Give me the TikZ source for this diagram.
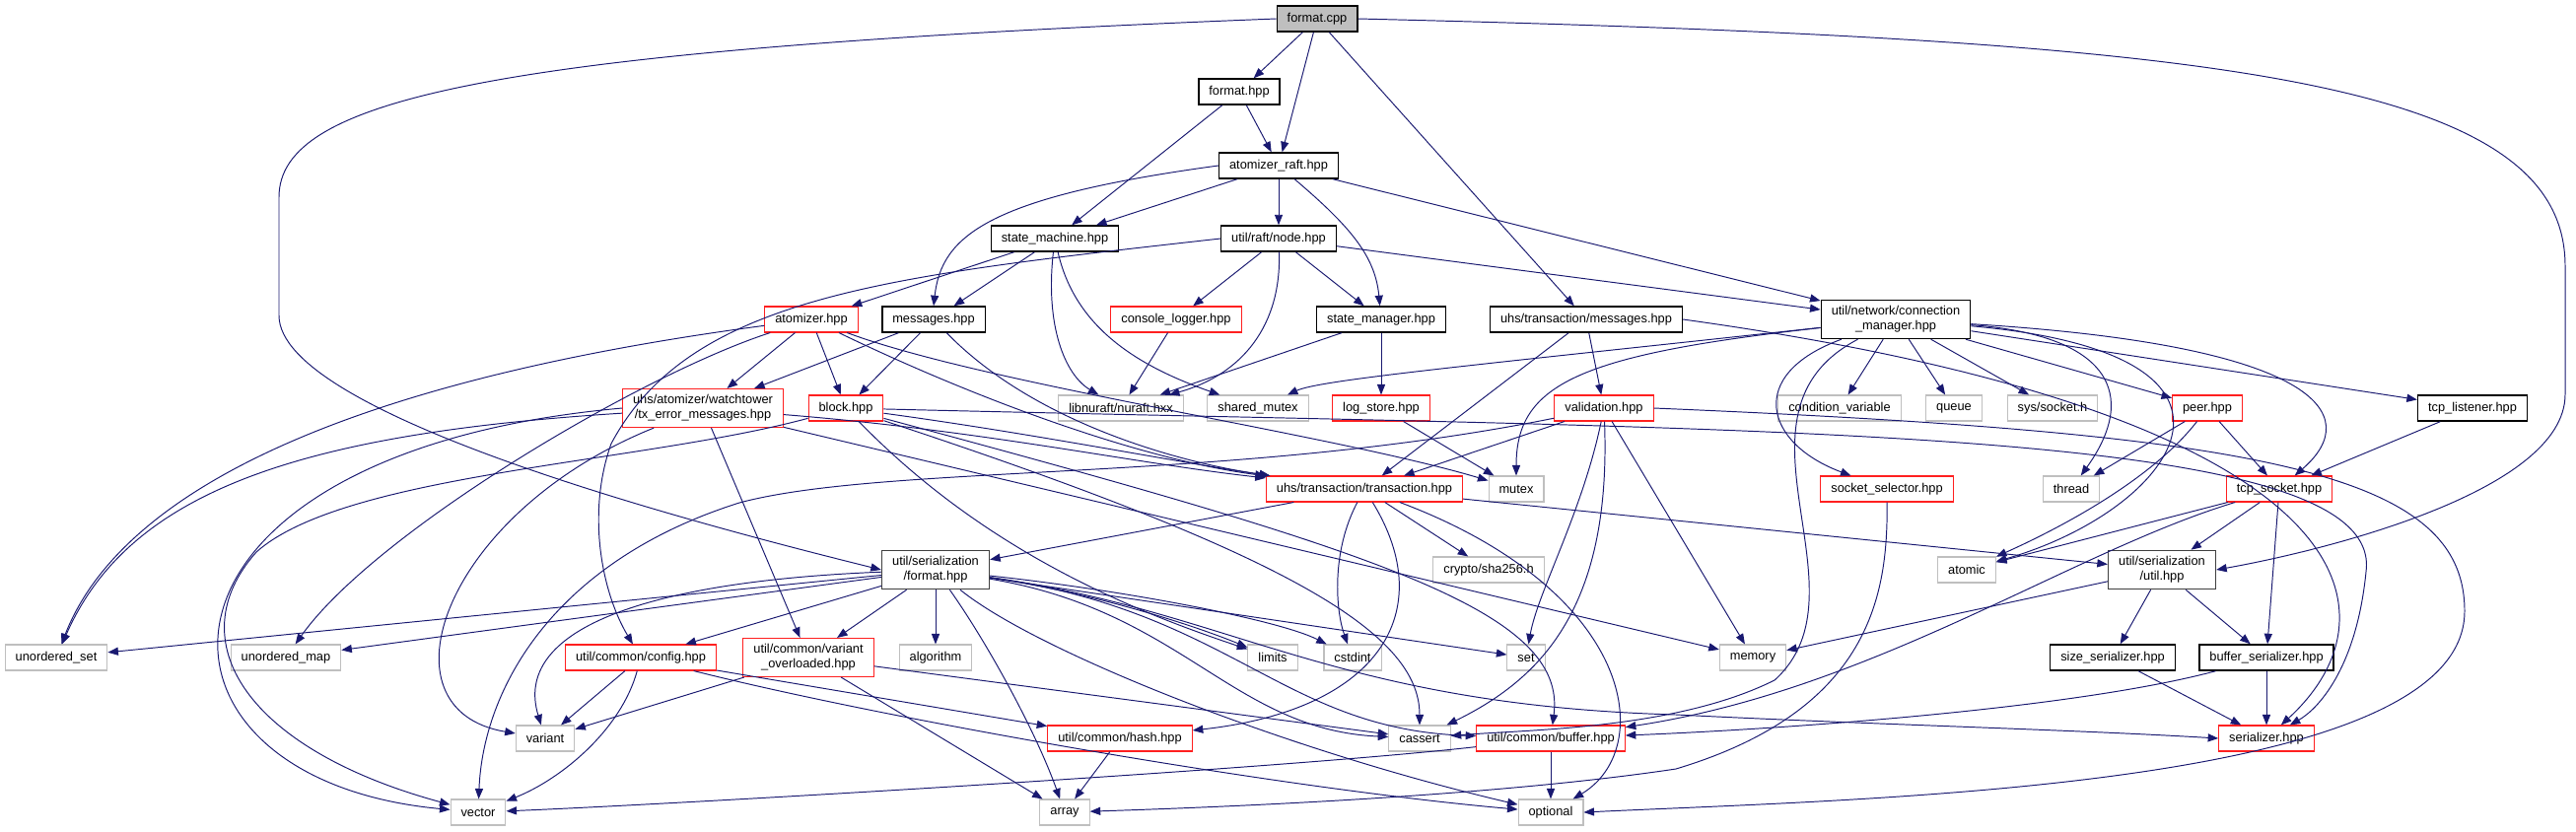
\documentclass[tikz,border=0pt]{standalone}
\usepackage{fontspec}
\setmainfont{Liberation Sans}
\usetikzlibrary{arrows.meta}

\definecolor{depline}{HTML}{191970}
\definecolor{sysline}{HTML}{BFBFBF}
\definecolor{moreline}{HTML}{FF2020}
\definecolor{serline}{HTML}{404040}

\tikzset{
  file/.style={draw, rectangle, fill=white, inner xsep=0.21cm, inner ysep=3.4pt,
    minimum height=0.52cm, align=center, line width=0.8pt},
  rootfile/.style={file, fill=sysline},
  morefile/.style={file, draw=moreline, line width=0.6pt},
  sysfile/.style={file, draw=sysline, line width=0.6pt},
  serfile/.style={file, draw=serline, line width=0.9pt},
  dep/.style={draw=depline, line width=0.55pt, -{Triangle[length=6pt,width=4.6pt]}}
}

\begin{document}
\begin{tikzpicture}[x=0.02cm, y=-0.02cm, font=\fontsize{7.3}{8.6}\selectfont]

  \useasboundingbox (0,0) rectangle (2613,843);

  % The files, row by row
  \node[rootfile] (fmtcpp) at (1336,19) {format.cpp};
  \node[file] (fmthpp) at (1257,93) {format.hpp};
  \node[file] (araft) at (1297,168) {atomizer\_raft.hpp};
  \node[file] (smach) at (1070,242) {state\_machine.hpp};
  \node[file] (rnode) at (1297,242) {util/raft/node.hpp};

  \node[morefile] (atom) at (823,324) {atomizer.hpp};
  \node[file] (amsgs) at (947,324) {messages.hpp};
  \node[morefile] (clog) at (1193,324) {console\_logger.hpp};
  \node[file] (smgr) at (1401,324) {state\_manager.hpp};
  \node[file] (tmsgs) at (1609,324) {uhs/transaction/messages.hpp};
  \node[file] (cmgr) at (1923,324) {util/network/connection\\\_manager.hpp};

  \node[morefile] (txerr) at (713,414) {uhs/atomizer/watchtower\\/tx\_error\_messages.hpp};
  \node[morefile] (blk) at (858,414) {block.hpp};
  \node[sysfile] (nuraft) at (1137,414) {libnuraft/nuraft.hxx};
  \node[sysfile] (shmtx) at (1276,414) {shared\_mutex};
  \node[morefile] (lstore) at (1401,414) {log\_store.hpp};
  \node[morefile] (valid) at (1627,414) {validation.hpp};
  \node[sysfile] (condv) at (1866,414) {condition\_variable};
  \node[sysfile] (queue) at (1982,414) {queue};
  \node[sysfile] (sockh) at (2082,414) {sys/socket.h};
  \node[morefile] (peer) at (2239,414) {peer.hpp};
  \node[file] (tcpl) at (2508,414) {tcp\_listener.hpp};

  \node[morefile] (trans) at (1384,496) {uhs/transaction/transaction.hpp};
  \node[sysfile] (mutex) at (1538,496) {mutex};
  \node[morefile] (ssel) at (1914,496) {socket\_selector.hpp};
  \node[sysfile] (thread) at (2101,496) {thread};
  \node[morefile] (tcps) at (2312,496) {tcp\_socket.hpp};

  \node[serfile] (sfmt) at (949,578) {util/serialization\\/format.hpp};
  \node[sysfile] (sha) at (1510,578) {crypto/sha256.h};
  \node[sysfile] (atomic) at (1995,578) {atomic};
  \node[serfile] (sutil) at (2193,578) {util/serialization\\/util.hpp};

  \node[sysfile] (uset) at (57,667) {unordered\_set};
  \node[sysfile] (umap) at (290,667) {unordered\_map};
  \node[morefile] (cfg) at (650,667) {util/common/config.hpp};
  \node[morefile] (varov) at (820,667) {util/common/variant\\\_overloaded.hpp};
  \node[sysfile] (algo) at (949,667) {algorithm};
  \node[sysfile] (limits) at (1291,667) {limits};
  \node[sysfile] (cstdint) at (1372,667) {cstdint};
  \node[sysfile] (stdset) at (1548,667) {set};
  \node[sysfile] (memory) at (1778,667) {memory};
  \node[file] (sizeser) at (2143,667) {size\_serializer.hpp};
  \node[file] (bufser) at (2299,667) {buffer\_serializer.hpp};

  \node[sysfile] (variant) at (553,749) {variant};
  \node[morefile] (hash) at (1136,749) {util/common/hash.hpp};
  \node[sysfile] (cassert) at (1440,749) {cassert};
  \node[morefile] (buffer) at (1573,749) {util/common/buffer.hpp};
  \node[morefile] (serial) at (2299,749) {serializer.hpp};

  \node[sysfile] (vector) at (485,824) {vector};
  \node[sysfile] (array) at (1080,824) {array};
  \node[sysfile] (optional) at (1573,824) {optional};

  % format.cpp
  \draw[dep] (fmtcpp) -- (fmthpp);
  \draw[dep] (fmtcpp) -- (araft);
  \draw[dep] (fmtcpp) -- (tmsgs);
  \draw[dep] (fmtcpp.west) .. controls (500,50) and (283,100) .. (283,200) -- (283,320)
    .. controls (283,420) and (700,530) .. (sfmt.west);
  \draw[dep] (fmtcpp.east) .. controls (2250,40) and (2602,80) .. (2602,270) -- (2602,400)
    .. controls (2602,500) and (2350,560) .. (sutil.east);

  % format.hpp and atomizer_raft.hpp
  \draw[dep] (fmthpp) -- (araft);
  \draw[dep] (fmthpp) -- (smach);
  \draw[dep] (araft.west) .. controls (1000,200) and (955,240) .. (amsgs.north);
  \draw[dep] (araft) -- (smach);
  \draw[dep] (araft) -- (rnode);
  \draw[dep] (araft) .. controls (1370,230) and (1395,260) .. (smgr);
  \draw[dep] (araft) -- (cmgr);

  % state_machine.hpp
  \draw[dep] (smach) -- (atom);
  \draw[dep] (smach) -- (amsgs);
  \draw[dep] (smach) .. controls (1060,330) and (1080,380) .. (nuraft);
  \draw[dep] (smach) .. controls (1090,330) and (1150,370) .. (shmtx);

  % util/raft/node.hpp
  \draw[dep] (rnode.west) .. controls (900,280) and (700,300) .. (620,450)
    .. controls (595,520) and (610,600) .. (cfg);
  \draw[dep] (rnode) -- (clog);
  \draw[dep] (rnode) -- (smgr);
  \draw[dep] (rnode) .. controls (1300,330) and (1260,380) .. (nuraft);
  \draw[dep] (rnode) -- (cmgr);

  % atomizer.hpp and messages.hpp
  \draw[dep] (atom) -- (txerr);
  \draw[dep] (atom) -- (blk);
  \draw[dep] (atom) .. controls (980,400) and (1150,465) .. (trans);
  \draw[dep] (atom) .. controls (1000,390) and (1350,440) .. (mutex);
  \draw[dep] (atom) .. controls (400,380) and (130,480) .. (uset);
  \draw[dep] (atom) .. controls (650,380) and (380,540) .. (umap);
  \draw[dep] (amsgs) -- (txerr);
  \draw[dep] (amsgs) -- (blk);
  \draw[dep] (amsgs) .. controls (1050,430) and (1200,470) .. (trans);

  % tx_error_messages.hpp
  \draw[dep] (txerr) .. controls (300,440) and (130,500) .. (uset);
  \draw[dep] (txerr.west) .. controls (120,460) and (120,790) .. (vector);
  \draw[dep] (txerr) .. controls (450,520) and (380,720) .. (variant);
  \draw[dep] (txerr) -- (varov);
  \draw[dep] (txerr) .. controls (1000,437) and (1150,470) .. (trans);
  \draw[dep] (txerr) -- (memory);

  % block.hpp
  \draw[dep] (blk) .. controls (1050,440) and (1200,470) .. (trans);
  \draw[dep] (blk) .. controls (1000,560) and (1150,620) .. (limits);
  \draw[dep] (blk) .. controls (1300,560) and (1440,640) .. (cassert);
  \draw[dep] (blk) .. controls (1400,560) and (1590,620) .. (buffer);
  \draw[dep] (blk) .. controls (650,470) and (350,480) .. (260,560)
    .. controls (180,650) and (250,760) .. (vector);
  \draw[dep] (blk) .. controls (1800,437) and (2420,430) .. (2400,580)
    .. controls (2390,680) and (2350,720) .. (serial);

  % console_logger.hpp, state_manager.hpp, log_store.hpp
  \draw[dep] (clog) -- (nuraft);
  \draw[dep] (smgr) -- (nuraft);
  \draw[dep] (smgr) -- (lstore);
  \draw[dep] (lstore) -- (mutex);

  % uhs/transaction/messages.hpp
  \draw[dep] (tmsgs) -- (trans);
  \draw[dep] (tmsgs) -- (valid);
  \draw[dep] (tmsgs.east) .. controls (2400,420) and (2440,620) .. (serial);

  % connection_manager.hpp
  \draw[dep] (cmgr) -- (condv);
  \draw[dep] (cmgr) -- (queue);
  \draw[dep] (cmgr) -- (sockh);
  \draw[dep] (cmgr) -- (peer);
  \draw[dep] (cmgr) -- (tcpl);
  \draw[dep] (cmgr) .. controls (1500,370) and (1340,385) .. (shmtx);
  \draw[dep] (cmgr) .. controls (1600,360) and (1538,390) .. (mutex);
  \draw[dep] (cmgr) .. controls (1770,380) and (1790,450) .. (ssel);
  \draw[dep] (cmgr) .. controls (1740,420) and (1900,600) .. (1800,690)
    .. controls (1700,740) and (1550,740) .. (cassert);
  \draw[dep] (cmgr) .. controls (2140,340) and (2170,400) .. (thread);
  \draw[dep] (cmgr) .. controls (2350,350) and (2400,420) .. (tcps);
  \draw[dep] (cmgr) .. controls (2330,360) and (2200,520) .. (atomic);

  % peer.hpp, tcp_listener.hpp
  \draw[dep] (peer) -- (thread);
  \draw[dep] (peer) .. controls (2180,490) and (2080,540) .. (atomic);
  \draw[dep] (peer) -- (tcps);
  \draw[dep] (tcpl) -- (tcps);

  % validation.hpp
  \draw[dep] (valid) -- (trans);
  \draw[dep] (valid) .. controls (1250,490) and (900,470) .. (750,510)
    .. controls (560,570) and (490,700) .. (vector);
  \draw[dep] (valid) .. controls (1605,520) and (1560,600) .. (stdset);
  \draw[dep] (valid) .. controls (1635,620) and (1560,690) .. (cassert);
  \draw[dep] (valid) -- (memory);
  \draw[dep] (valid.east) .. controls (2300,440) and (2500,480) .. (2500,620)
    .. controls (2500,800) and (1900,810) .. (optional.east);

  % transaction.hpp
  \draw[dep] (trans) -- (sfmt);
  \draw[dep] (trans) .. controls (1350,560) and (1355,620) .. (cstdint);
  \draw[dep] (trans) .. controls (1460,620) and (1400,720) .. (hash);
  \draw[dep] (trans) -- (sha);
  \draw[dep] (trans) .. controls (1660,600) and (1680,760) .. (optional);
  \draw[dep] (trans) -- (sutil);

  % util/serialization/format.hpp
  \draw[dep] (sfmt) -- (uset);
  \draw[dep] (sfmt) -- (umap);
  \draw[dep] (sfmt) -- (cfg);
  \draw[dep] (sfmt) -- (varov);
  \draw[dep] (sfmt) -- (algo);
  \draw[dep] (sfmt) .. controls (650,590) and (520,640) .. (variant);
  \draw[dep] (sfmt) .. controls (1000,650) and (1050,740) .. (array);
  \draw[dep] (sfmt) .. controls (1050,660) and (1300,760) .. (optional);
  \draw[dep] (sfmt) .. controls (1100,600) and (1200,630) .. (limits);
  \draw[dep] (sfmt) .. controls (1150,600) and (1300,630) .. (cstdint);
  \draw[dep] (sfmt) -- (stdset);
  \draw[dep] (sfmt) .. controls (1200,620) and (1250,740) .. (cassert);
  \draw[dep] (sfmt) .. controls (1250,620) and (1300,740) .. (buffer);
  \draw[dep] (sfmt) .. controls (1250,620) and (1350,715) .. (1700,725)
    .. controls (1900,735) and (2100,740) .. (serial.west);

  % util/common
  \draw[dep] (cfg) -- (variant);
  \draw[dep] (cfg) .. controls (630,740) and (570,790) .. (vector);
  \draw[dep] (cfg) -- (hash);
  \draw[dep] (cfg) .. controls (900,730) and (1300,800) .. (optional);
  \draw[dep] (varov) -- (variant);
  \draw[dep] (varov) -- (cassert);
  \draw[dep] (varov) -- (array);
  \draw[dep] (hash) -- (array);
  \draw[dep] (buffer) -- (optional);
  \draw[dep] (buffer) .. controls (1300,780) and (700,815) .. (vector);

  % socket_selector.hpp, tcp_socket.hpp
  \draw[dep] (ssel) .. controls (1915,600) and (1900,720) .. (1700,780)
    .. controls (1500,810) and (1200,820) .. (array);
  \draw[dep] (tcps) -- (atomic);
  \draw[dep] (tcps) -- (sutil);
  \draw[dep] (tcps) -- (bufser);
  \draw[dep] (tcps) .. controls (2100,560) and (1900,700) .. (buffer);

  % util/serialization/util.hpp and serializers
  \draw[dep] (sutil) -- (memory);
  \draw[dep] (sutil) -- (sizeser);
  \draw[dep] (sutil) -- (bufser);
  \draw[dep] (sizeser) -- (serial);
  \draw[dep] (bufser) -- (serial);
  \draw[dep] (bufser) .. controls (2100,720) and (1800,740) .. (buffer);

\end{tikzpicture}
\end{document}
